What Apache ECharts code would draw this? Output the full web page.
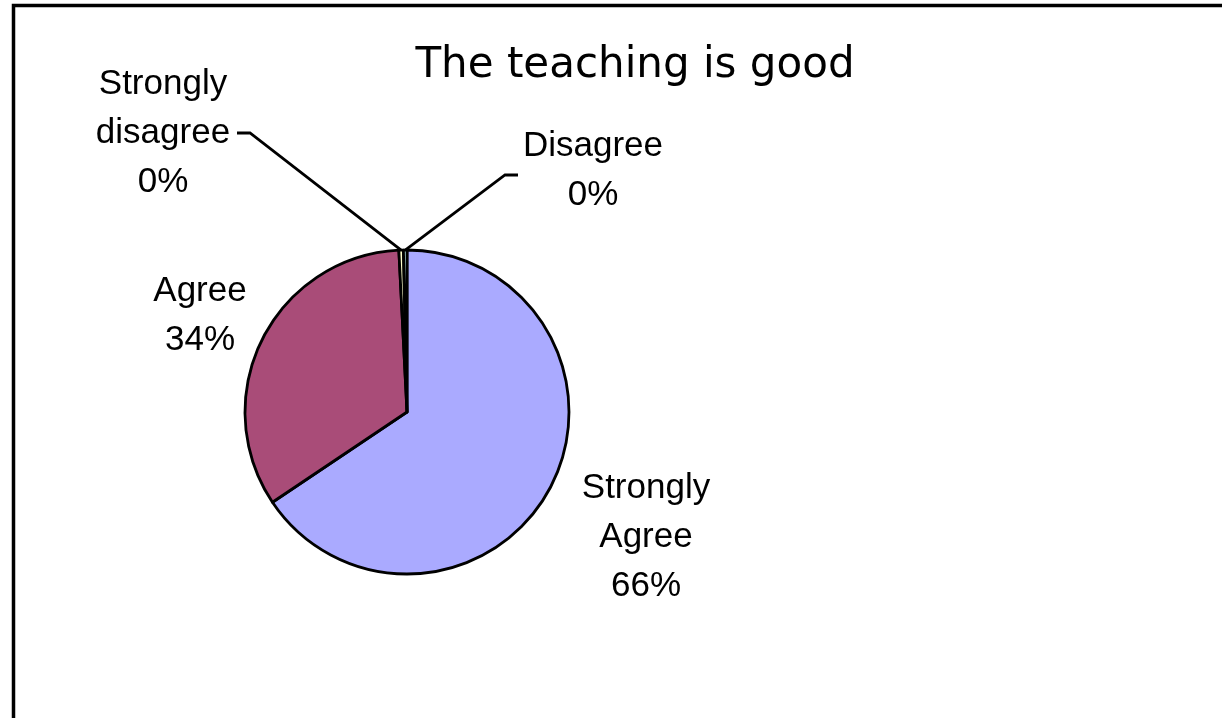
<!DOCTYPE html>
<html>
<head>
<meta charset="utf-8">
<script src="https://cdn.jsdelivr.net/npm/echarts@6/dist/echarts.min.js"></script>
<style>html,body{margin:0;padding:0;background:#fff;}#c{width:1222px;height:718px;}</style>
</head>
<body>
<div id="c"></div>
<script>
const titleText = 'The teaching is good';
const categories = ['Strongly Agree', 'Agree', 'Strongly disagree', 'Disagree'];
const values = [65.6, 33.6, 0.45, 0.35];
const colors = ['#AAAAFF', '#A94C78', '#FFFFCC', '#CCFFFF'];

// label placement (layout only)
const labelPos = {
  'Strongly Agree': {x: 646, y: 537},
  'Agree': {x: 200, y: 316},
  'Strongly disagree': {x: 163, y: 133, line: [[250, 133], [237, 133]]},
  'Disagree': {x: 593, y: 171, line: [[505, 175], [518, 175]]}
};

const chart = echarts.init(document.getElementById('c'), null, {renderer: 'canvas'});
const data = categories.map((name, i) => ({
  name: name,
  value: values[i],
  itemStyle: {color: colors[i]},
  labelLine: {show: !!labelPos[name].line}
}));

chart.setOption({
  animation: false,
  backgroundColor: '#ffffff',
  graphic: [{
    type: 'rect',
    shape: {x: 13.5, y: 5.5, width: 1400, height: 900},
    style: {fill: 'none', stroke: '#000', lineWidth: 3.5},
    silent: true
  }],
  title: {
    text: titleText,
    left: 635,
    top: 42,
    textAlign: 'center',
    padding: 0,
    textStyle: {fontFamily: 'DejaVu Sans', fontSize: 42, fontWeight: 'normal', color: '#000', lineHeight: 48}
  },
  series: [{
    type: 'pie',
    center: [407, 412],
    radius: 162,
    startAngle: 90,
    clockwise: true,
    avoidLabelOverlap: false,
    data: data,
    itemStyle: {borderColor: '#000', borderWidth: 2.8},
    label: {
      show: true,
      position: 'outside',
      formatter: p => p.name.replace(' ', '\n') + '\n' + Math.round(p.percent) + '%',
      fontFamily: 'Liberation Sans',
      fontSize: 35,
      lineHeight: 49,
      color: '#000',
      align: 'center'
    },
    labelLine: {show: true, lineStyle: {color: '#000', width: 2.8}, length: 10, length2: 10},
    labelLayout: function (params) {
      const name = categories[params.dataIndex];
      const pos = labelPos[name];
      const res = {x: pos.x, y: pos.y, align: 'center', verticalAlign: 'middle'};
      if (pos.line && params.labelLinePoints) {
        res.labelLinePoints = [params.labelLinePoints[0], pos.line[0], pos.line[1]];
      }
      return res;
    },
    emphasis: {disabled: true}
  }]
});
</script>
</body>
</html>
